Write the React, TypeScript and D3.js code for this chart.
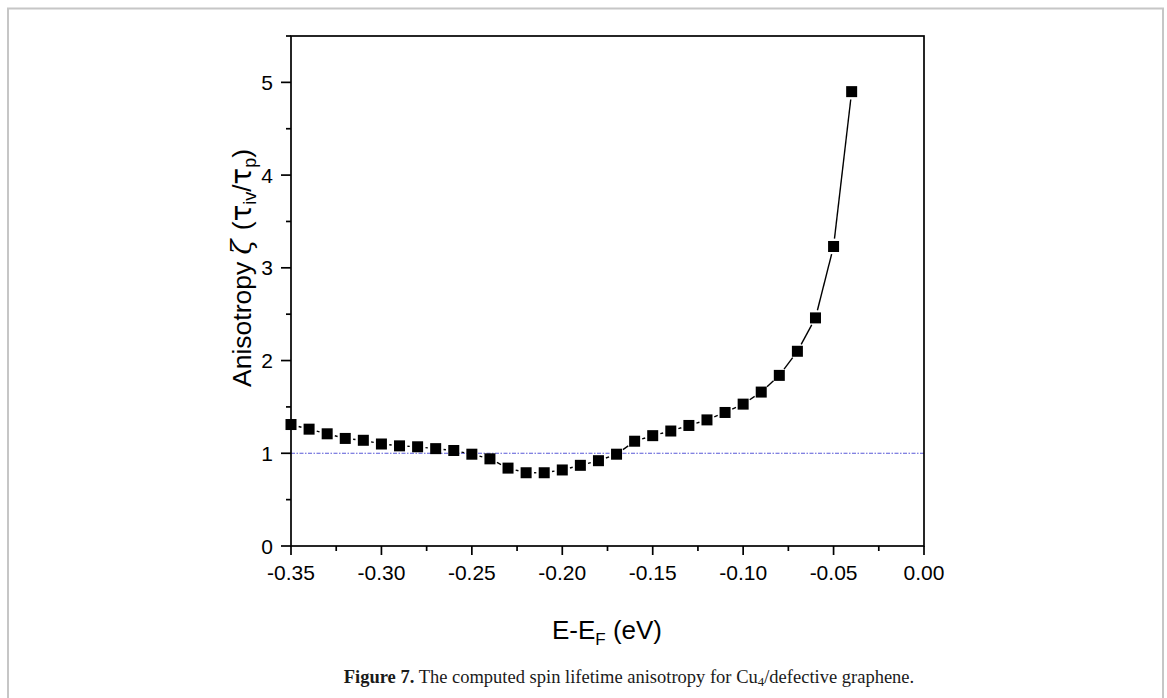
import React from "react";
import * as d3 from "d3";

const energies = [-0.35, -0.34, -0.33, -0.32, -0.31, -0.3, -0.29, -0.28, -0.27, -0.26, -0.25, -0.24, -0.23, -0.22, -0.21, -0.2, -0.19, -0.18, -0.17, -0.16, -0.15, -0.14, -0.13, -0.12, -0.11, -0.1, -0.09, -0.08, -0.07, -0.06, -0.05, -0.04];
const anisotropy = [1.31, 1.26, 1.21, 1.16, 1.14, 1.1, 1.08, 1.07, 1.05, 1.03, 0.99, 0.94, 0.84, 0.79, 0.79, 0.82, 0.87, 0.92, 0.99, 1.13, 1.19, 1.24, 1.3, 1.36, 1.44, 1.53, 1.66, 1.84, 2.1, 2.46, 3.23, 4.9];
const xMajorTicks = [-0.35, -0.3, -0.25, -0.2, -0.15, -0.1, -0.05, 0];
const xMinorTicks = [-0.325, -0.275, -0.225, -0.175, -0.125, -0.075, -0.025];
const yMajorTicks = [0, 1, 2, 3, 4, 5];
const yMinorTicks = [0.5, 1.5, 2.5, 3.5, 4.5, 5.5];
const referenceValue = 1;

const W = 1167;
const H = 698;
const M = { left: 291, right: 924, top: 36, bottom: 546 };
const SANS = "'Liberation Sans', Arial, sans-serif";
const SERIF = "'Liberation Serif', 'Times New Roman', serif";

export default function App() {
  const x = d3.scaleLinear().domain([-0.35, 0]).range([M.left, M.right]);
  const y = d3.scaleLinear().domain([0, 5.5]).range([M.bottom, M.top]);
  const pts = energies.map((e, i) => [x(e), y(anisotropy[i])] as [number, number]);
  const marker = 11;
  const gap = marker / 2 + 2.4;

  const segs: string[] = [];
  for (let i = 0; i < pts.length - 1; i++) {
    const [x0, y0] = pts[i];
    const [x1, y1] = pts[i + 1];
    const dx = x1 - x0, dy = y1 - y0;
    const len = Math.hypot(dx, dy);
    if (len <= 2 * gap + 0.5) continue;
    const ux = dx / len, uy = dy / len;
    segs.push(
      d3.line()([
        [x0 + ux * gap, y0 + uy * gap],
        [x1 - ux * gap, y1 - uy * gap],
      ]) as string
    );
  }

  const axisStroke = 1.7;
  return (
    <svg width={W} height={H} style={{ position: "absolute", left: 0, top: 0, background: "#fff" }}>
      <rect x={0} y={0} width={W} height={H} fill="#fff" />
      <path d={`M8,${H + 2} V8.5 H1163 V${H + 2}`} fill="none" stroke="#c6c6c6" strokeWidth={2} />

      <line x1={M.left} x2={M.right} y1={y(referenceValue)} y2={y(referenceValue)} stroke="#5a5ad8" strokeWidth={1.2} strokeDasharray="4,1.5,1.5,1.5" />

      {segs.map((d, i) => (
        <path key={i} d={d} fill="none" stroke="#000" strokeWidth={1.4} />
      ))}
      {pts.map(([px, py], i) => (
        <rect key={i} x={px - marker / 2} y={py - marker / 2} width={marker} height={marker} fill="#000" />
      ))}

      <rect x={M.left} y={M.top} width={M.right - M.left} height={M.bottom - M.top} fill="none" stroke="#000" strokeWidth={axisStroke} />

      {xMajorTicks.map((t) => (
        <g key={t}>
          <line x1={x(t)} x2={x(t)} y1={M.bottom} y2={M.bottom + 9} stroke="#000" strokeWidth={axisStroke} />
          <text x={x(t)} y={580} textAnchor="middle" fontFamily={SANS} fontSize={21} fill="#000">
            {d3.format(".2f")(t).replace("−", "-")}
          </text>
        </g>
      ))}
      {xMinorTicks.map((t) => (
        <line key={t} x1={x(t)} x2={x(t)} y1={M.bottom} y2={M.bottom + 5} stroke="#000" strokeWidth={axisStroke} />
      ))}

      {yMajorTicks.map((t) => (
        <g key={t}>
          <line x1={M.left - 10} x2={M.left} y1={y(t)} y2={y(t)} stroke="#000" strokeWidth={axisStroke} />
          <text x={273} y={y(t) + 7.5} textAnchor="end" fontFamily={SANS} fontSize={21} fill="#000">
            {String(t)}
          </text>
        </g>
      ))}
      {yMinorTicks.map((t) => (
        <line key={t} x1={M.left - 5} x2={M.left} y1={y(t)} y2={y(t)} stroke="#000" strokeWidth={axisStroke} />
      ))}

      <text transform="translate(251,268) rotate(-90)" textAnchor="middle" fontFamily={SANS} fontSize={26.5} fill="#000">
        <tspan>Anisotropy </tspan>
        <tspan fontFamily="'DejaVu Serif', serif" fontStyle="italic" fontSize={27.5}>ζ</tspan>
        <tspan dx={2}> (</tspan>
        <tspan fontFamily="'DejaVu Sans', sans-serif" fontSize={27.5}>τ</tspan>
        <tspan fontSize={18} dy={5}>iv</tspan>
        <tspan dy={-5}>/</tspan>
        <tspan fontFamily="'DejaVu Sans', sans-serif" fontSize={27.5}>τ</tspan>
        <tspan fontSize={18} dy={5}>p</tspan>
        <tspan dy={-5}>)</tspan>
      </text>

      <text x={607} y={639} textAnchor="middle" fontFamily={SANS} fontSize={26} fill="#000">
        <tspan>E-E</tspan>
        <tspan fontSize={17} dy={6}>F</tspan>
        <tspan dy={-6}> (eV)</tspan>
      </text>

      <text x={629} y={683} textAnchor="middle" fontFamily={SERIF} fontSize={18.5} fill="#1a1a1a">
        <tspan fontWeight="bold">Figure 7.</tspan>
        <tspan> The computed spin lifetime anisotropy for Cu</tspan>
        <tspan fontSize={13} dy={3}>4</tspan>
        <tspan dy={-3}>/defective graphene.</tspan>
      </text>
    </svg>
  );
}
